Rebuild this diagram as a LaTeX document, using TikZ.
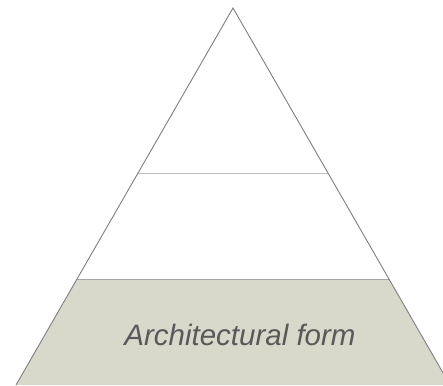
\documentclass[tikz,border=0pt]{standalone}
\usepackage{fontspec}
\setmainfont{Liberation Sans}
\usetikzlibrary{calc}
\definecolor{bandfill}{HTML}{D8D9CB}
\definecolor{edgegray}{HTML}{7F7F7F}
\definecolor{divgray}{HTML}{BFBFBF}
\definecolor{textgray}{HTML}{595959}
\tikzset{
  edge/.style={draw=edgegray, line width=0.9pt},
  divider/.style={draw=divgray, line width=0.9pt},
  label/.style={text=textgray, font=\itshape\fontsize{29.5}{31}\selectfont, inner sep=0pt}
}
\begin{document}
\begin{tikzpicture}[x=1pt,y=-1pt]
\useasboundingbox (0,0) rectangle (443,385);
\clip (0,0) rectangle (443,385);
\fill[white] (0,0) rectangle (443,385);
\coordinate (apex) at (233,8);
\coordinate (bl) at (16,385);
\coordinate (br) at (450,385);
\coordinate (ml) at (138,173);
\coordinate (mr) at (328,173);
\coordinate (ll) at (77,279);
\coordinate (lr) at (389,279);
\fill[bandfill] (ll) -- (lr) -- (br) -- (bl) -- cycle;
\draw[divider] (ml) -- (mr);
\draw[divider, draw=edgegray!70] (ll) -- (lr);
\draw[edge] (bl) -- (apex) -- (br);
\node[label] (form) at (240,335) {Architectural form};
\end{tikzpicture}
\end{document}
